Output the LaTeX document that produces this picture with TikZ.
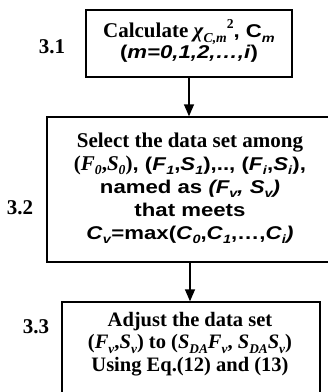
\documentclass[tikz,border=0pt]{standalone}
\usepackage{fontspec}
\setmainfont{Liberation Serif}
\newfontfamily\ar[FakeStretch=1.2]{Liberation Sans}
\usetikzlibrary{arrows.meta}
\newcommand\lo[1]{\raisebox{-0.45ex}{\scalebox{0.65}{#1}}}
\newcommand\hi[1]{\raisebox{0.95ex}{\scalebox{0.65}{#1}}}
\newcommand\sa{\ar\fontsize{18.5}{23}\selectfont\bfseries}
\begin{document}
\begin{tikzpicture}[x=1pt,y=-1pt,
  box/.style={draw, line width=1.4pt, inner sep=0pt},
  flow/.style={-{Triangle[length=12pt,width=10pt]}, line width=1.4pt},
  txt/.style={align=center, inner sep=0pt, font=\fontsize{21}{21}\selectfont\bfseries},
  lab/.style={anchor=base, inner sep=0pt, font=\fontsize{21}{21}\selectfont\bfseries}]
\useasboundingbox (0,0) rectangle (328,392);
\fill[white] (0,0) rectangle (328,392);

\node[box, minimum width=206pt, minimum height=67pt] (b1) at (189,43.5) {};
\node[txt, font=\fontsize{21}{21}\selectfont\bfseries] (t1) at (189,41) {Calculate \textit{χ}\lo{\textit{C,m}}\hi{2}{\sa, C\lo{\textit{m}}}\\
  {\sa(\textit{m=0,1,2,…,i})}};

\node[box, minimum width=286pt, minimum height=145pt] (b2) at (190,189.5) {};
\node[txt, font=\fontsize{21}{23}\selectfont\bfseries] (t2) at (190,188) {Select the data set among\\
  (\textit{F}\lo{\textit{0}},\textit{S}\lo{\textit{0}}){\sa, (\textit{F}\lo{\textit{1}},\textit{S}\lo{\textit{1}}),.., (\textit{F}\lo{\textit{i}},\textit{S}\lo{\textit{i}}),}\\
  {\sa named as \textit{(F\lo{v}, S\lo{v})}}\\
  {\sa that meets}\\
  {\sa\textit{C}\lo{\textit{v}}=max(\textit{C}\lo{\textit{0}},\textit{C}\lo{\textit{1}},…,\textit{C}\lo{\textit{i}}\textit{)}}};

\node[box, minimum width=258pt, minimum height=100pt] (b3) at (191,352) {};
\node[txt, font=\fontsize{20.5}{22.8}\selectfont\bfseries] (t3) at (190,344) {Adjust the data set\\
  (\textit{F}\lo{\textit{v}},\textit{S}\lo{\textit{v}}) to (\textit{S}\lo{\textit{DA}}\textit{F}\lo{\textit{v}}, \textit{S}\lo{\textit{DA}}\textit{S}\lo{\textit{v}})\\
  Using Eq.(12) and (13)};

\node[lab] (l1) at (52,53) {3.1};
\node[lab] (l2) at (20,214) {3.2};
\node[lab] (l3) at (36,333) {3.3};

\draw[flow] (b1.south) -- (b1.south |- b2.north);
\draw[flow] (b2.south) -- (b2.south |- b3.north);
\end{tikzpicture}
\end{document}
